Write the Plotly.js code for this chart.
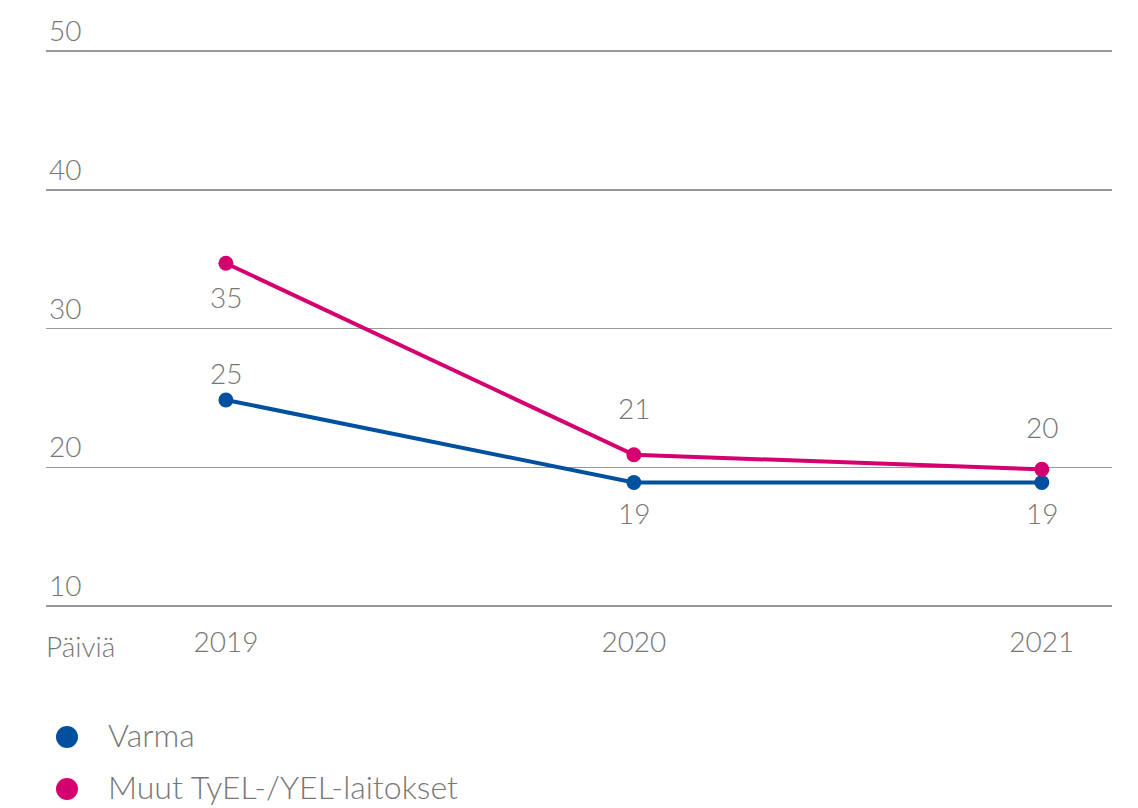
<!DOCTYPE html>
<html>
<head>
<meta charset="utf-8">
<script src="https://cdn.plot.ly/plotly-3.0.1.min.js"></script>
<style>html,body{margin:0;padding:0;background:#fff;}#chart{width:1138px;height:808px;}</style>
</head>
<body>
<div id="chart"></div>
<script>
const years = ['2019', '2020', '2021'];
const seriesNames = ['Varma', 'Muut TyEL-/YEL-laitokset'];
const varmaValues = [24.85, 18.9, 18.9];
const muutValues = [34.7, 20.9, 19.85];
const varmaLabels = ['25', '19', '19'];
const muutLabels = ['35', '21', '20'];
const yTicks = [10, 20, 30, 40, 50];
const yUnit = 'Päiviä';

const colors = ['#0050a0', '#d4006f'];
const FONT = 'Lato, "Open Sans", sans-serif';
const grey = '#777777';

const W = 1138, H = 808;
const plotLeft = 46, plotRight = 1112, plotTop = 10, plotBottom = 613;
const paperX = px => (px - plotLeft) / (plotRight - plotLeft);
const paperY = py => (plotBottom - py) / (plotBottom - plotTop);

const traces = [
  {x: years, y: varmaValues, mode: 'lines+markers', name: seriesNames[0],
   line: {color: colors[0], width: 4}, marker: {color: colors[0], size: 15}, showlegend: false, hoverinfo: 'skip'},
  {x: years, y: muutValues, mode: 'lines+markers', name: seriesNames[1],
   line: {color: colors[1], width: 4}, marker: {color: colors[1], size: 15}, showlegend: false, hoverinfo: 'skip'}
];

const varmaShift = [27, -30, -30];
const muutShift = [-34, 47, 42];
const annotations = [];
years.forEach((yr, i) => {
  annotations.push({x: i, y: varmaValues[i], xref: 'x', yref: 'y', text: varmaLabels[i], showarrow: false,
    yshift: varmaShift[i], font: {family: FONT, size: 28, color: grey, weight: 300}});
  annotations.push({x: i, y: muutValues[i], xref: 'x', yref: 'y', text: muutLabels[i], showarrow: false,
    yshift: muutShift[i], font: {family: FONT, size: 28, color: grey, weight: 300}});
});
annotations.push({x: 0, y: 0, xref: 'paper', yref: 'paper', xanchor: 'left', yanchor: 'top', yshift: -14, xshift: -2,
  text: yUnit, showarrow: false, font: {family: FONT, size: 28, color: grey, weight: 300}});

const shapes = [];
const legendY = [737, 789];
seriesNames.forEach((n, i) => {
  shapes.push({type: 'circle', xref: 'paper', yref: 'paper', xsizemode: 'pixel', ysizemode: 'pixel',
    xanchor: paperX(67), yanchor: paperY(legendY[i]),
    x0: -11, x1: 11, y0: -11, y1: 11, fillcolor: colors[i], line: {width: 0}});
  annotations.push({x: paperX(106), y: paperY(legendY[i] - 3), xref: 'paper', yref: 'paper',
    xanchor: 'left', yanchor: 'middle', text: n, showarrow: false,
    font: {family: FONT, size: 32, color: grey, weight: 300}});
});

const pxPerUnit = (606 - 51) / 40;
const yMin = 10 - (plotBottom - 606) / pxPerUnit;
const yMax = 50 + (51 - plotTop) / pxPerUnit;

const layout = {
  width: W, height: H,
  margin: {l: plotLeft, r: W - plotRight, t: plotTop, b: H - plotBottom},
  paper_bgcolor: '#fff', plot_bgcolor: '#fff',
  font: {family: FONT, color: grey, size: 28, weight: 300},
  xaxis: {type: 'category', range: [-0.441, 2.172], showgrid: false, zeroline: false, showline: false,
    ticks: '', tickfont: {family: FONT, size: 28, color: grey, weight: 300}, ticklabelstandoff: 10},
  yaxis: {range: [yMin, yMax], tickvals: yTicks, showgrid: true, gridcolor: '#999', gridwidth: 1.5,
    zeroline: false, showline: false, ticks: '', ticklabelposition: 'inside top',
    tickfont: {family: FONT, size: 28, color: grey, weight: 300}},
  showlegend: false,
  annotations: annotations,
  shapes: shapes
};

Plotly.newPlot('chart', traces, layout, {displayModeBar: false, staticPlot: true});
</script>
</body>
</html>
